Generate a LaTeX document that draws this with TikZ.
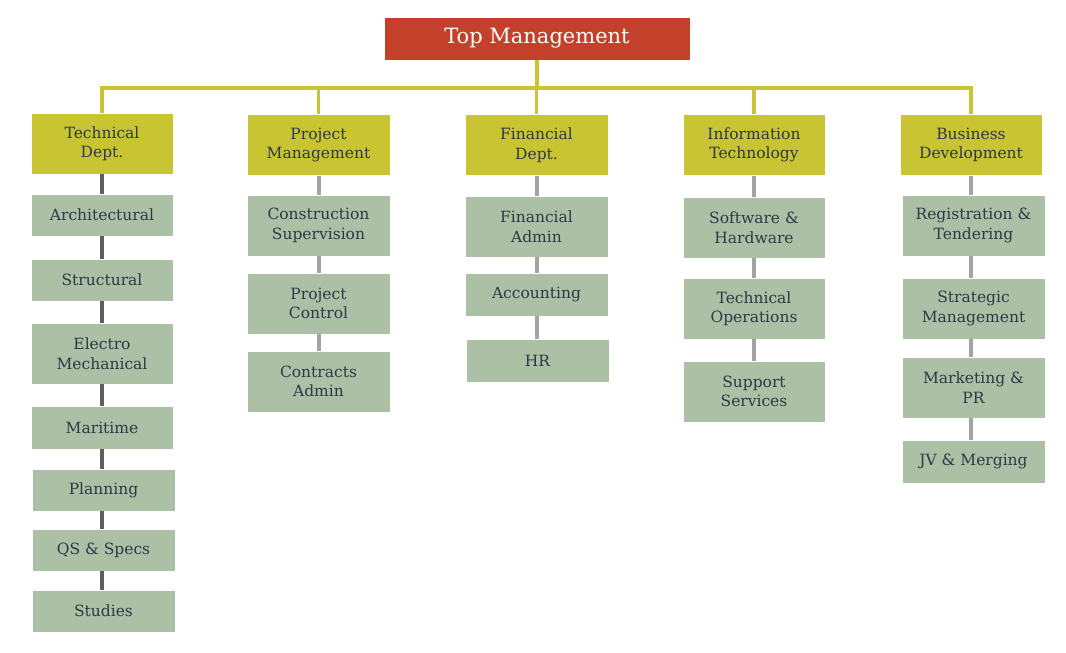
\documentclass[tikz,border=0pt]{standalone}
\usepackage{fontspec}
\setmainfont{DejaVu Serif}
\definecolor{topred}{HTML}{C5402A}
\definecolor{hdr}{HTML}{C8C432}
\definecolor{sub}{HTML}{ABC0A4}
\definecolor{txt}{HTML}{2E3848}
\definecolor{darkln}{HTML}{5E5E60}
\definecolor{lightln}{HTML}{A3A3A5}
\begin{document}
\begin{tikzpicture}[x=1pt,y=-1pt,
  every node/.style={inner sep=0pt, align=center, text=txt},
  topbox/.style={fill=topred, draw=white, line width=0.6pt, minimum width=306pt, minimum height=43pt, text=white, font=\fontsize{21}{25}\selectfont},
  hdrbox/.style={fill=hdr, draw=white, line width=0.6pt, minimum width=142pt, minimum height=61pt, font=\fontsize{15.5}{19.5}\selectfont},
  subbox/.style={fill=sub, draw=white, line width=0.6pt, minimum width=142pt, minimum height=42pt, font=\fontsize{15.5}{19.5}\selectfont},
  tall/.style={minimum height=61pt},
  busline/.style={draw=hdr, line width=3.2pt},
  darkcon/.style={draw=darkln, line width=4pt},
  lightcon/.style={draw=lightln, line width=4pt}]
\useasboundingbox (0,0) rectangle (1066,653);
% top
\node[topbox] (top) at (537,38.5) {Top Management};
% headers
\node[hdrbox] (h1) at (102,143.5) {Technical\\Dept.};
\node[hdrbox, minimum width=143pt] (h2) at (318.5,145) {Project\\Management};
\node[hdrbox, minimum width=143pt] (h3) at (536.5,145) {Financial\\Dept.};
\node[hdrbox] (h4) at (754,145) {Information\\Technology};
\node[hdrbox] (h5) at (971,145) {Business\\Development};
% bus
\coordinate (bus) at (537,88);
\draw[busline] (top.south) -- (bus);
\draw[busline] (h1.north) -- (h1.north |- bus) -- (h5.north |- bus) -- (h5.north);
\draw[busline] (h2.north) -- (h2.north |- bus);
\draw[busline] (h3.north) -- (h3.north |- bus);
\draw[busline] (h4.north) -- (h4.north |- bus);
% column 1
\node[subbox] (a1) at (102,215) {Architectural};
\node[subbox] (a2) at (102,280) {Structural};
\node[subbox, tall] (a3) at (102,353.5) {Electro\\Mechanical};
\node[subbox, minimum height=43pt] (a4) at (102,427.5) {Maritime};
\node[subbox, minimum width=143pt] (a5) at (103.5,490) {Planning};
\node[subbox, minimum width=143pt] (a6) at (103.5,550) {QS \& Specs};
\node[subbox, minimum width=143pt] (a7) at (103.5,611) {Studies};
% column 2
\node[subbox, tall, minimum width=143pt] (b1) at (318.5,225.5) {Construction\\Supervision};
\node[subbox, tall, minimum width=143pt] (b2) at (318.5,303.5) {Project\\Control};
\node[subbox, tall, minimum width=143pt] (b3) at (318.5,381.5) {Contracts\\Admin};
% column 3
\node[subbox, tall, minimum width=143pt] (c1) at (536.5,226.5) {Financial\\Admin};
\node[subbox, minimum width=143pt, minimum height=43pt] (c2) at (536.5,294.5) {Accounting};
\node[subbox, minimum width=143pt, minimum height=43pt] (c3) at (537.5,360.5) {HR};
% column 4
\node[subbox, tall] (d1) at (754,227.5) {Software \&\\Hardware};
\node[subbox, tall] (d2) at (754,308.5) {Technical\\Operations};
\node[subbox, tall] (d3) at (754,391.5) {Support\\Services};
% column 5
\node[subbox, tall, minimum width=143pt] (e1) at (973.5,225.5) {Registration \&\\Tendering};
\node[subbox, tall, minimum width=143pt] (e2) at (973.5,308.5) {Strategic\\Management};
\node[subbox, tall, minimum width=143pt] (e3) at (973.5,387.5) {Marketing \&\\PR};
\node[subbox, minimum width=143pt, minimum height=43pt] (e4) at (973.5,461.5) {JV \& Merging};
% connectors
\foreach \u/\v in {h1/a1,a1/a2,a2/a3,a3/a4,a4/a5,a5/a6,a6/a7}
  \draw[darkcon] (\u.south -| h1.south) -- (\v.north -| h1.south);
\foreach \u/\v in {h2/b1,b1/b2,b2/b3}
  \draw[lightcon] (\u.south) -- (\v.north);
\foreach \u/\v in {h3/c1,c1/c2,c2/c3}
  \draw[lightcon] (\u.south) -- (\v.north -| \u.south);
\foreach \u/\v in {h4/d1,d1/d2,d2/d3}
  \draw[lightcon] (\u.south) -- (\v.north);
\foreach \u/\v in {h5/e1,e1/e2,e2/e3,e3/e4}
  \draw[lightcon] (\u.south -| h5.south) -- (\v.north -| h5.south);
\end{tikzpicture}
\end{document}
